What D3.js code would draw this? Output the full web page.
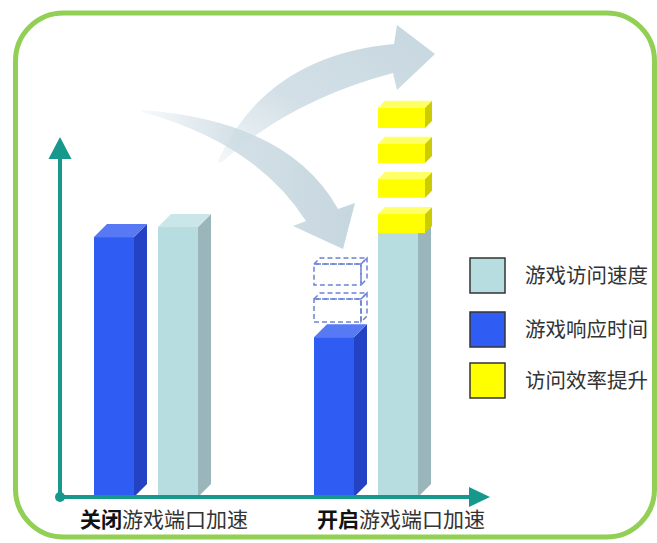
<!DOCTYPE html>
<html><head><meta charset="utf-8">
<script src="https://cdn.jsdelivr.net/npm/d3@7"></script>
<style>
html,body{margin:0;padding:0;background:#fff;}
svg{display:block;font-family:"Noto Sans CJK SC","Noto Sans",sans-serif;}
</style></head>
<body>
<script>
// ---- data ----
const categories = ["关闭游戏端口加速", "开启游戏端口加速"];
const labelBold = ["关闭", "开启"];
const labelRest = ["游戏端口加速", "游戏端口加速"];
const seriesNames = ["游戏访问速度", "游戏响应时间", "访问效率提升"];
const responseTime = [72.2, 44.4];
const accessSpeed = [75.0, 73.3];
const boostBlocks = [[73.3, 78.6], [83.1, 88.3], [92.8, 98.1], [102.5, 108.1]];
const ghostBlocks = [[48.6, 55.0], [58.9, 64.7]];

const W = 657, H = 543;
const svg = d3.select("body").append("svg").attr("width", W).attr("height", H);
const defs = svg.append("defs");

// frame
svg.append("rect").attr("x", 15.5).attr("y", 13).attr("width", 639).attr("height", 524)
  .attr("rx", 48).attr("ry", 48).attr("fill", "#fff")
  .attr("stroke", "#92cf55").attr("stroke-width", 5);

// scales
const x0 = d3.scaleBand().domain(categories).range([94, 534]).paddingInner(0).paddingOuter(0);
const x1 = d3.scaleBand().domain(["resp", "speed"]).range([0, 104]).paddingInner(0.375).paddingOuter(0);
const y = d3.scaleLinear().domain([0, 110]).range([497, 101]);
const bw = x1.bandwidth();

// decorative arrows
const g1 = defs.append("linearGradient").attr("id", "ag1").attr("x1", "0%").attr("x2", "100%").attr("y1", "0%").attr("y2", "0%");
g1.append("stop").attr("offset", "0%").attr("stop-color", "#cbdae2").attr("stop-opacity", 0.15);
g1.append("stop").attr("offset", "45%").attr("stop-color", "#cbdae2").attr("stop-opacity", 0.85);
g1.append("stop").attr("offset", "100%").attr("stop-color", "#c6d6df").attr("stop-opacity", 1);
const g2 = defs.append("linearGradient").attr("id", "ag2").attr("x1", "0%").attr("x2", "100%").attr("y1", "100%").attr("y2", "0%");
g2.append("stop").attr("offset", "0%").attr("stop-color", "#cbdae2").attr("stop-opacity", 0.2);
g2.append("stop").attr("offset", "40%").attr("stop-color", "#cbdae2").attr("stop-opacity", 0.85);
g2.append("stop").attr("offset", "100%").attr("stop-color", "#c6d6df").attr("stop-opacity", 1);

svg.append("path")
  .attr("d", "M142,110 Q289,121 338,209 L355,203 L343,249 L293,226 L306,221 Q256,143 142,112 Z")
  .attr("fill", "url(#ag1)");
svg.append("path")
  .attr("d", "M217,163 Q265,56 394,44 L397,25 L435,54 L397,90 L393,73 Q291,100 222,162 Z")
  .attr("fill", "url(#ag2)");

// 3D block helper
function block(g, x, w, yTop, yBot, d, cFront, cTop, cSide, dashed) {
  const side = g.append("path").attr("d", `M${x + w},${yTop} L${x + w + d},${yTop - d} L${x + w + d},${yBot - d} L${x + w},${yBot} Z`);
  const front = g.append("rect").attr("x", x).attr("y", yTop).attr("width", w).attr("height", yBot - yTop);
  const top = g.append("path").attr("d", `M${x},${yTop} L${x + d},${yTop - d} L${x + w + d},${yTop - d} L${x + w},${yTop} Z`);
  if (dashed) {
    [side, front, top].forEach(s => s.attr("fill", "none").attr("stroke", "#6b82d6")
      .attr("stroke-width", 1.5).attr("stroke-dasharray", "5,3"));
  } else { side.attr("fill", cSide); front.attr("fill", cFront); top.attr("fill", cTop); }
}

const bars = svg.append("g");
categories.forEach((c, i) => {
  const xr = x0(c) + x1("resp");
  const xs = x0(c) + x1("speed");
  block(bars, xr, bw, y(responseTime[i]), y(0), 13, "#2f5cf2", "#5779f4", "#2442c4");
  block(bars, xs, bw, y(accessSpeed[i]), y(0), 13, "#b8dde0", "#cbe6e8", "#9ab6ba");
});
// boost blocks on the second light bar
boostBlocks.forEach(b => {
  block(bars, x0(categories[1]) + x1("speed"), bw + 7, y(b[1]), y(b[0]), 7, "#ffff00", "#ffff66", "#cccc00");
});
// ghost (removed) response blocks
ghostBlocks.forEach(b => {
  block(bars, x0(categories[1]) + x1("resp"), bw + 7, y(b[1]), y(b[0]), 6, null, null, null, true);
});

// axes
const axisColor = "#17988d";
const ax = svg.append("g");
ax.append("line").attr("x1", 60).attr("y1", y(0)).attr("x2", 60).attr("y2", 155)
  .attr("stroke", axisColor).attr("stroke-width", 4);
ax.append("path").attr("d", "M60,137 L71.5,159 L48.5,159 Z").attr("fill", axisColor);
ax.append("line").attr("x1", 60).attr("y1", y(0)).attr("x2", 472).attr("y2", y(0))
  .attr("stroke", axisColor).attr("stroke-width", 4);
ax.append("path").attr("d", `M490,${y(0)} L469,${y(0) - 10} L469,${y(0) + 10} Z`).attr("fill", axisColor);
ax.append("circle").attr("cx", 60).attr("cy", y(0)).attr("r", 5).attr("fill", axisColor);

// category labels
const labX = [80, 317];
categories.forEach((c, i) => {
  const t = svg.append("text").attr("x", labX[i]).attr("y", 527).attr("font-size", 21);
  t.append("tspan").attr("font-weight", "bold").attr("fill", "#111").text(labelBold[i]);
  t.append("tspan").attr("fill", "#333").text(labelRest[i]);
});

// legend
const legColors = ["#b8dde0", "#2f5cf2", "#ffff00"];
const legY = [258, 312, 363];
seriesNames.forEach((s, i) => {
  svg.append("rect").attr("x", 470).attr("y", legY[i]).attr("width", 35).attr("height", 35)
    .attr("fill", legColors[i]).attr("stroke", "#333").attr("stroke-width", 1.5);
  svg.append("text").attr("x", 525).attr("y", legY[i] + 18).attr("dy", "0.35em")
    .attr("font-size", 20.5).attr("fill", "#333").text(s);
});
</script>
</body></html>
